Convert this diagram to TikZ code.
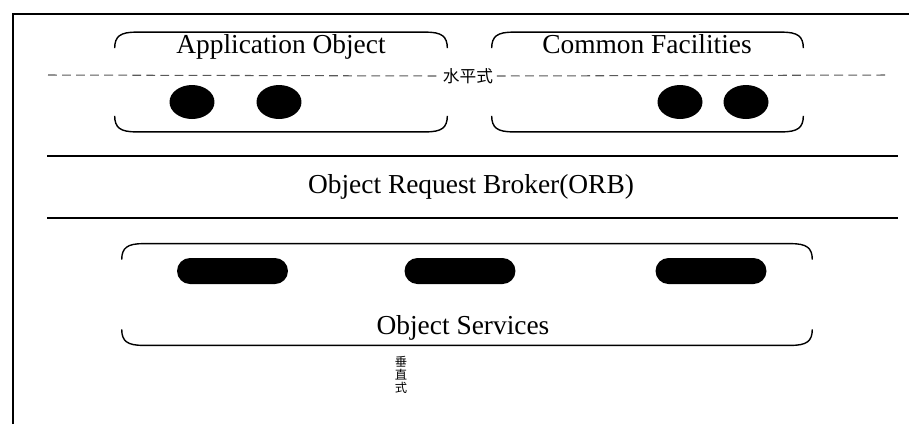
\documentclass[tikz,border=0pt]{standalone}
\usepackage{fontspec}
\setmainfont{Liberation Serif}
\newfontfamily\cjk{Noto Sans CJK SC}
\usetikzlibrary{positioning,shapes.geometric}

\tikzset{
  groupbox/.style={minimum height=1.98cm, inner sep=0pt},
  boxedge/.style={line width=0.8pt},
  blob/.style={ellipse, fill=black, minimum width=0.9cm, minimum height=0.68cm, inner sep=0pt},
  pill/.style={rectangle, fill=black, rounded corners=0.26cm, minimum width=2.22cm, minimum height=0.52cm, inner sep=0pt},
  lbl/.style={font=\fontsize{15.6}{18}\selectfont, inner sep=0pt, anchor=base},
  cjklbl/.style={font=\cjk\fontsize{9.5}{10}\selectfont, inner sep=2pt},
  layerline/.style={line width=0.8pt},
  splitline/.style={line width=0.6pt, black!65, dash pattern=on 5pt off 3pt}
}
% top and bottom edges of a group, sides left open
\newcommand{\edgebox}[1]{%
  \draw[boxedge] ([yshift=-0.32cm]#1.north west) .. controls ([yshift=-0.08cm]#1.north west) and ([xshift=0.12cm]#1.north west) .. ([xshift=0.42cm]#1.north west)
    -- ([xshift=-0.42cm]#1.north east) .. controls ([xshift=-0.12cm]#1.north east) and ([yshift=-0.08cm]#1.north east) .. ([yshift=-0.32cm]#1.north east);
  \draw[boxedge] ([yshift=0.32cm]#1.south west) .. controls ([yshift=0.08cm]#1.south west) and ([xshift=0.12cm]#1.south west) .. ([xshift=0.42cm]#1.south west)
    -- ([xshift=-0.42cm]#1.south east) .. controls ([xshift=-0.12cm]#1.south east) and ([yshift=0.08cm]#1.south east) .. ([yshift=0.32cm]#1.south east);
}

\begin{document}
\begin{tikzpicture}[x=0.02cm, y=-0.02cm]
\useasboundingbox (0,0) rectangle (909,424);
% frame
\draw[line width=1.1pt] (13,424) -- (13,14) -- (909,14);

% upper groups
\node[groupbox, minimum width=6.64cm] (app) at (281,82) {};
\node[groupbox, minimum width=6.22cm] (fac) at (647.5,82) {};
\edgebox{app}
\edgebox{fac}
\node[lbl] (applbl) at (281,53) {Application Object};
\node[lbl] (faclbl) at (647,53) {Common Facilities};
\node[blob] (a1) at (192,102) {};
\node[blob] (a2) at (279,102) {};
\node[blob] (f1) at (680,102) {};
\node[blob] (f2) at (746,102) {};

% horizontal split
\node[cjklbl] (horiz) at (468,76) {水平式};
\coordinate (hl) at (48,75);
\coordinate (hr) at (888,75);
\draw[splitline] (hl) -- (horiz.west);
\draw[splitline] (horiz.east) -- (hr);

% ORB layer
\coordinate (ot1) at (47,156);
\coordinate (ot2) at (898,156);
\coordinate (ob1) at (47,218);
\coordinate (ob2) at (898,218);
\draw[layerline] (ot1) -- (ot2);
\draw[layerline] (ob1) -- (ob2);
\node[lbl] (orb) at (471,193) {Object Request Broker(ORB)};

% services
\node[groupbox, minimum width=13.8cm, minimum height=2.02cm] (svc) at (467,294.5) {};
\edgebox{svc}
\node[pill] (s1) at (232.5,271) {};
\node[pill] (s2) at (460,271) {};
\node[pill] (s3) at (711,271) {};
\node[lbl] (svclbl) at (463,334) {Object Services};

% vertical split
\node[font=\cjk\fontsize{7}{7.6}\selectfont, align=center, inner sep=0pt] (vert) at (401,375) {垂\\直\\式};
\end{tikzpicture}
\end{document}
